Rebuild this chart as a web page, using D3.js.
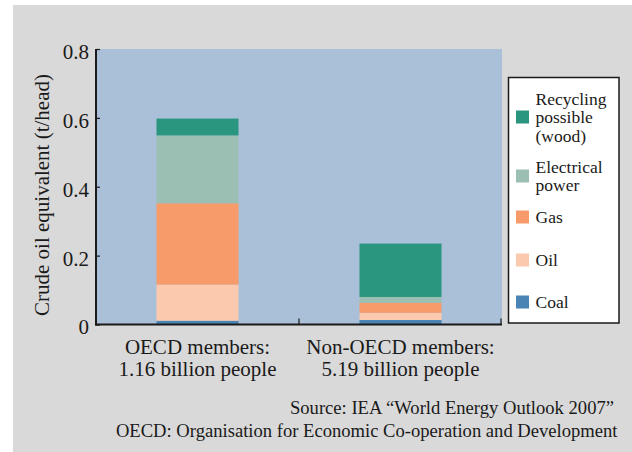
<!DOCTYPE html>
<html><head><meta charset="utf-8">
<script src="https://cdn.jsdelivr.net/npm/d3@7"></script>
<style>
html,body{margin:0;padding:0;background:#fff;}
svg{display:block;}
text{font-family:"Liberation Serif","Times New Roman",serif;fill:#1a1a1a;}
</style></head>
<body>
<script>
const categories = ["OECD", "Non-OECD"];
const categoryLabels = [["OECD members:", "1.16 billion people"], ["Non-OECD members:", "5.19 billion people"]];
const seriesNames = ["Coal", "Oil", "Gas", "Electrical power", "Recycling possible (wood)"];
const legendLabels = [["Coal"], ["Oil"], ["Gas"], ["Electrical", "power"], ["Recycling", "possible", "(wood)"]];
const coal = [0.011, 0.013];
const oil = [0.105, 0.021];
const gas = [0.236, 0.029];
const electrical = [0.197, 0.017];
const recycling = [0.049, 0.155];
const colors = ["#4a84b5", "#fbc9ad", "#f79b6b", "#9bbfb2", "#2a967f"];
const yTicks = [0, 0.2, 0.4, 0.6, 0.8];
const sourceLines = ["Source: IEA \u201cWorld Energy Outlook 2007\u201d", "OECD: Organisation for Economic Co-operation and Development"];

const W = 632, H = 452;
const svg = d3.select("body").append("svg").attr("width", W).attr("height", H);
svg.append("rect").attr("x", 13).attr("y", 5).attr("width", W - 13).attr("height", H - 5).attr("fill", "#d9d9d9");

const pL = 96, pR = 502, pT = 49, pB = 324.5;
const x = d3.scaleBand().domain(categories).range([pL, pR]).paddingInner(0.596).paddingOuter(0.298);
const y = d3.scaleLinear().domain([0, 0.8]).range([pB, pT]);

svg.append("rect").attr("x", pL).attr("y", pT).attr("width", pR - pL).attr("height", pB - pT).attr("fill", "#aabfd8");

const table = categories.map((c, i) => ({cat: c, Coal: coal[i], Oil: oil[i], Gas: gas[i], "Electrical power": electrical[i], "Recycling possible (wood)": recycling[i]}));
const stack = d3.stack().keys(seriesNames)(table);

svg.append("g").selectAll("g").data(stack).join("g").attr("fill", (d, i) => colors[i])
  .selectAll("rect").data(d => d).join("rect")
  .attr("x", d => x(d.data.cat)).attr("width", x.bandwidth())
  .attr("y", d => y(d[1])).attr("height", d => y(d[0]) - y(d[1]));

// Y axis
const yAxis = d3.axisLeft(y).tickValues(yTicks).tickSize(-4).tickPadding(7).tickFormat(d3.format("~g"));
const gy = svg.append("g").attr("transform", `translate(${pL},0)`).call(yAxis);
gy.select(".domain").remove();
gy.selectAll(".tick line").attr("stroke", "#1a1a1a").attr("stroke-width", 1.2);
gy.selectAll(".tick text").attr("font-size", 21).attr("font-family", "Liberation Serif").attr("fill", "#1a1a1a").attr("dy", "0.45em");
svg.append("line").attr("x1", pL).attr("x2", pL).attr("y1", pT).attr("y2", pB + 1).attr("stroke", "#1a1a1a").attr("stroke-width", 2);

// X axis
svg.append("line").attr("x1", pL - 1).attr("x2", pR).attr("y1", pB).attr("y2", pB).attr("stroke", "#1a1a1a").attr("stroke-width", 2);
const bounds = categories.map(c => x(c) + x.bandwidth() / 2 + x.step() / 2);
svg.append("g").selectAll("line").data(bounds).join("line")
  .attr("x1", d => Math.min(d, pR - 1)).attr("x2", d => Math.min(d, pR - 1))
  .attr("y1", pB - 6).attr("y2", pB).attr("stroke", "#1a1a1a").attr("stroke-width", 1.2);

const xl = svg.append("g");
categories.forEach((c, i) => {
  categoryLabels[i].forEach((line, j) => {
    xl.append("text").attr("text-anchor", "middle").attr("font-size", 21)
      .attr("x", x(c) + x.bandwidth() / 2).attr("y", 354 + j * 22).text(line);
  });
});

// Y title
svg.append("text").attr("transform", `translate(49,195) rotate(-90)`).attr("text-anchor", "middle")
  .attr("font-size", 21).text("Crude oil equivalent (t/head)");

// Legend
svg.append("rect").attr("x", 508.5).attr("y", 77.5).attr("width", 110.5).attr("height", 245.5)
  .attr("fill", "#fff").attr("stroke", "#1a1a1a").attr("stroke-width", 1.5);
const swatchY = [302, 260, 217, 176, 117];
const lg = svg.append("g");
seriesNames.forEach((s, i) => {
  lg.append("rect").attr("x", 516).attr("y", swatchY[i] - 6.5).attr("width", 13).attr("height", 13).attr("fill", colors[i]);
  const lines = legendLabels[i];
  const lh = 18.5;
  lines.forEach((ln, j) => {
    lg.append("text").attr("font-size", 17.5)
      .attr("x", 535.5).attr("y", swatchY[i] + 6 + (j - (lines.length - 1) / 2) * lh).text(ln);
  });
});

// Source
sourceLines.forEach((s, i) => {
  svg.append("text").attr("x", i === 0 ? 614 : 617.5).attr("y", 414 + i * 23).attr("text-anchor", "end")
    .attr("font-size", 18.6).text(s);
});
</script>
</body></html>
